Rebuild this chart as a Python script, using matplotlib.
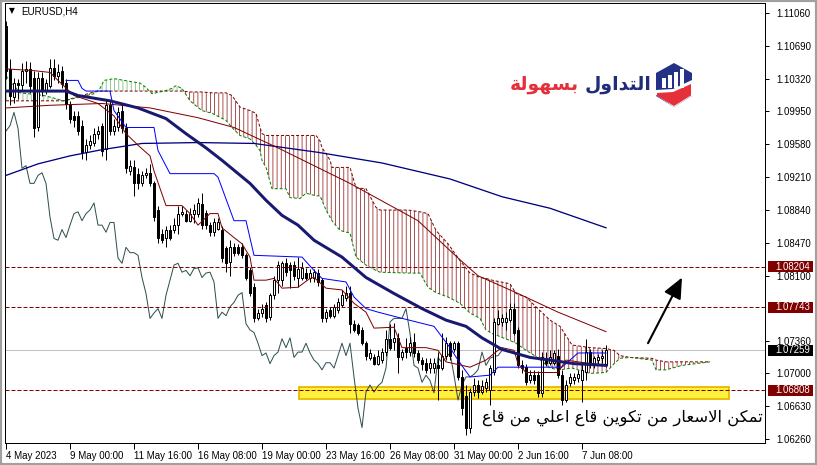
import matplotlib
matplotlib.use("Agg")
import matplotlib.pyplot as plt
from matplotlib.patches import Rectangle, Polygon

# ---------------- data (EURUSD H4) ----------------
opens = [
    1.1091, 1.1043, 1.1011, 1.1027, 1.1025, 1.1041, 1.1043, 1.1033, 1.0977, 1.1033,
    1.1018, 1.1024, 1.1044, 1.1035, 1.1041, 1.1027, 1.1003, 1.0990, 1.0990, 1.0979,
    1.0949, 1.0957, 1.0959, 1.0970, 1.0979, 1.0953, 1.1002, 1.0973, 1.0977, 1.0996,
    1.0976, 1.0928, 1.0932, 1.0925, 1.0914, 1.0923, 1.0926, 1.0914, 1.0884, 1.0857,
    1.0852, 1.0861, 1.0861, 1.0867, 1.0880, 1.0880, 1.0872, 1.0880, 1.0880, 1.0891,
    1.0881, 1.0867, 1.0859, 1.0863, 1.0861, 1.0841, 1.0825, 1.0842, 1.0842, 1.0842,
    1.0833, 1.0816, 1.0797, 1.0762, 1.0768, 1.0777, 1.0763, 1.0788, 1.0805, 1.0805,
    1.0824, 1.0822, 1.0822, 1.0808, 1.0808, 1.0813, 1.0807, 1.0807, 1.0813, 1.0805,
    1.0762, 1.0771, 1.0765, 1.0771, 1.0777, 1.0785, 1.0790, 1.0756, 1.0754, 1.0749,
    1.0734, 1.0717, 1.0718, 1.0711, 1.0715, 1.0724, 1.0739, 1.0735, 1.0740, 1.0718,
    1.0729, 1.0724, 1.0735, 1.0723, 1.0715, 1.0712, 1.0706, 1.0706, 1.0709, 1.0706,
    1.0720, 1.0734, 1.0728, 1.0734, 1.0696, 1.0675, 1.0639, 1.0679, 1.0687, 1.0679,
    1.0683, 1.0681, 1.0702, 1.0756, 1.0758, 1.0758, 1.0760, 1.0773, 1.0749, 1.0709,
    1.0707, 1.0692, 1.0698, 1.0698, 1.0678, 1.0717, 1.0712, 1.0712, 1.0720, 1.0698,
    1.0670, 1.0689, 1.0692, 1.0695, 1.0692, 1.0702, 1.0724, 1.0709, 1.0715, 1.0717,
    1.0709]
highs = [
    1.1097, 1.1054, 1.1033, 1.1032, 1.1050, 1.1052, 1.1051, 1.1041, 1.1039, 1.1039,
    1.1032, 1.1054, 1.1054, 1.1049, 1.1046, 1.1032, 1.1007, 1.0995, 1.0995, 1.0985,
    1.0964, 1.0969, 1.0976, 1.0979, 1.0982, 1.1009, 1.1007, 1.0987, 1.1000, 1.1003,
    1.0982, 1.0940, 1.0940, 1.0931, 1.0928, 1.0931, 1.0936, 1.0917, 1.0889, 1.0863,
    1.0866, 1.0867, 1.0875, 1.0889, 1.0888, 1.0884, 1.0886, 1.0891, 1.0898, 1.0903,
    1.0884, 1.0870, 1.0875, 1.0875, 1.0866, 1.0844, 1.0850, 1.0847, 1.0846, 1.0847,
    1.0836, 1.0820, 1.0802, 1.0773, 1.0778, 1.0780, 1.0791, 1.0810, 1.0827, 1.0827,
    1.0830, 1.0825, 1.0827, 1.0831, 1.0825, 1.0819, 1.0818, 1.0818, 1.0818, 1.0808,
    1.0773, 1.0775, 1.0778, 1.0785, 1.0794, 1.0799, 1.0799, 1.0760, 1.0757, 1.0752,
    1.0737, 1.0728, 1.0722, 1.0726, 1.0729, 1.0749, 1.0756, 1.0757, 1.0745, 1.0728,
    1.0740, 1.0741, 1.0745, 1.0726, 1.0718, 1.0717, 1.0717, 1.0717, 1.0724, 1.0745,
    1.0741, 1.0737, 1.0737, 1.0737, 1.0704, 1.0687, 1.0683, 1.0695, 1.0692, 1.0692,
    1.0695, 1.0709, 1.0762, 1.0771, 1.0767, 1.0769, 1.0779, 1.0779, 1.0752, 1.0715,
    1.0711, 1.0704, 1.0704, 1.0703, 1.0724, 1.0724, 1.0726, 1.0726, 1.0728, 1.0704,
    1.0692, 1.0700, 1.0701, 1.0704, 1.0712, 1.0739, 1.0728, 1.0720, 1.0722, 1.0726,
    1.0732]
lows = [
    1.1032, 1.1002, 1.1005, 1.1009, 1.1018, 1.1027, 1.1016, 1.0966, 1.0973, 1.1013,
    1.1015, 1.1021, 1.1030, 1.1027, 1.1021, 1.0998, 1.0982, 1.0978, 1.0969, 1.0942,
    1.0940, 1.0953, 1.0956, 1.0964, 1.0945, 1.0940, 1.0968, 1.0969, 1.0973, 1.0971,
    1.0926, 1.0924, 1.0900, 1.0908, 1.0911, 1.0920, 1.0911, 1.0872, 1.0847, 1.0847,
    1.0842, 1.0850, 1.0858, 1.0857, 1.0877, 1.0870, 1.0870, 1.0869, 1.0876, 1.0863,
    1.0863, 1.0855, 1.0855, 1.0861, 1.0825, 1.0814, 1.0810, 1.0832, 1.0833, 1.0830,
    1.0805, 1.0787, 1.0758, 1.0760, 1.0764, 1.0758, 1.0760, 1.0784, 1.0791, 1.0799,
    1.0810, 1.0796, 1.0805, 1.0797, 1.0805, 1.0805, 1.0803, 1.0803, 1.0799, 1.0758,
    1.0758, 1.0762, 1.0762, 1.0768, 1.0775, 1.0782, 1.0746, 1.0747, 1.0743, 1.0732,
    1.0715, 1.0715, 1.0709, 1.0709, 1.0712, 1.0720, 1.0726, 1.0726, 1.0700, 1.0715,
    1.0717, 1.0720, 1.0719, 1.0712, 1.0704, 1.0700, 1.0701, 1.0701, 1.0670, 1.0704,
    1.0715, 1.0715, 1.0724, 1.0692, 1.0653, 1.0631, 1.0633, 1.0675, 1.0672, 1.0677,
    1.0679, 1.0664, 1.0698, 1.0754, 1.0753, 1.0749, 1.0758, 1.0743, 1.0706, 1.0701,
    1.0687, 1.0689, 1.0688, 1.0673, 1.0673, 1.0708, 1.0709, 1.0709, 1.0695, 1.0664,
    1.0668, 1.0686, 1.0688, 1.0690, 1.0668, 1.0692, 1.0706, 1.0706, 1.0710, 1.0712,
    1.0707]
closes = [
    1.1041, 1.1013, 1.1027, 1.1025, 1.1041, 1.1043, 1.1024, 1.0976, 1.1033, 1.1018,
    1.1027, 1.1044, 1.1035, 1.1039, 1.1026, 1.1003, 1.0987, 1.0985, 1.0973, 1.0949,
    1.0957, 1.0962, 1.0970, 1.0973, 1.0951, 1.1002, 1.0973, 1.0979, 1.0994, 1.0976,
    1.0931, 1.0934, 1.0914, 1.0914, 1.0923, 1.0926, 1.0914, 1.0876, 1.0852, 1.0850,
    1.0862, 1.0853, 1.0867, 1.0880, 1.0882, 1.0872, 1.0880, 1.0884, 1.0892, 1.0867,
    1.0867, 1.0859, 1.0870, 1.0870, 1.0830, 1.0824, 1.0842, 1.0836, 1.0836, 1.0833,
    1.0808, 1.0790, 1.0762, 1.0768, 1.0773, 1.0762, 1.0788, 1.0805, 1.0822, 1.0824,
    1.0814, 1.0816, 1.0810, 1.0818, 1.0819, 1.0808, 1.0813, 1.0814, 1.0803, 1.0762,
    1.0769, 1.0765, 1.0775, 1.0780, 1.0788, 1.0791, 1.0756, 1.0749, 1.0746, 1.0734,
    1.0720, 1.0723, 1.0711, 1.0720, 1.0724, 1.0739, 1.0729, 1.0740, 1.0718, 1.0724,
    1.0724, 1.0734, 1.0723, 1.0715, 1.0711, 1.0704, 1.0712, 1.0712, 1.0706, 1.0720,
    1.0734, 1.0720, 1.0734, 1.0696, 1.0661, 1.0639, 1.0679, 1.0687, 1.0679, 1.0686,
    1.0690, 1.0706, 1.0758, 1.0762, 1.0762, 1.0762, 1.0773, 1.0745, 1.0709, 1.0706,
    1.0690, 1.0698, 1.0692, 1.0678, 1.0718, 1.0712, 1.0718, 1.0723, 1.0698, 1.0670,
    1.0687, 1.0696, 1.0696, 1.0699, 1.0704, 1.0724, 1.0709, 1.0717, 1.0719, 1.0720,
    1.07259]

# moving averages (bar index, price)
ma_fast_x = [0, 15, 18, 26, 33, 40, 45, 50, 54, 61, 65, 69, 73, 77, 84, 90, 97, 104, 110, 115, 119, 124, 131, 136, 142, 150]
ma_fast_y = [1.1018, 1.1018, 1.1013, 1.1007, 1.0999, 1.0987, 1.0970, 1.0954, 1.0940, 1.0914, 1.0895, 1.0878, 1.0867,
             1.0850, 1.0831, 1.0808, 1.0790, 1.0773, 1.0760, 1.0753, 1.0740, 1.0727, 1.0718, 1.0715, 1.0711, 1.0709]
ma_slow_x = [0, 8, 16, 24, 34, 48, 62, 78, 94, 111, 124, 136, 150]
ma_slow_y = [1.0923, 1.0936, 1.0945, 1.0952, 1.0959, 1.0960, 1.0959, 1.0949, 1.0937, 1.0919, 1.0899, 1.0886, 1.0864]
ma_mid_x = [0, 11, 24, 36, 48, 57, 68, 86, 103, 113, 118, 128, 138, 150]
ma_mid_y = [1.0999, 1.1002, 1.1004, 1.0999, 1.0988, 1.0977, 1.0954, 1.0914, 1.0872, 1.0830, 1.0810, 1.0790, 1.0769, 1.0747]

# ichimoku
kijun_x = [15, 18, 19, 20, 26, 27, 30, 37, 38, 41, 52, 53, 57, 60, 62, 74, 77, 79, 85, 87, 90, 93, 99, 107, 111, 113,
           116, 121, 123, 139, 143, 150]
kijun_y = [1.1030, 1.1030, 1.1021, 1.1018, 1.1018, 1.0996, 1.0977, 1.0977, 1.0951, 1.0925, 1.0925, 1.0921, 1.0872,
           1.0872, 1.0833, 1.0831, 1.0816, 1.0807, 1.0803, 1.0786, 1.0773, 1.0769, 1.0762, 1.0753, 1.0729, 1.0715,
           1.0696, 1.0698, 1.0707, 1.0707, 1.0723, 1.0723]
tenkan_x = [0, 7, 11, 13, 17, 23, 27, 30, 33, 36, 37, 40, 44, 46, 48, 51, 53, 54, 57, 59, 61, 62, 65, 67, 69, 73, 76,
            77, 80, 84, 87, 90, 92, 97, 99, 105, 108, 110, 116, 120, 123, 124, 127, 128, 130, 138, 140, 143, 150]
tenkan_y = [1.1043, 1.1041, 1.1039, 1.1030, 1.1013, 1.1004, 1.0990, 1.0970, 1.0957, 1.0945, 1.0928, 1.0889, 1.0889,
            1.0880, 1.0867, 1.0880, 1.0880, 1.0864, 1.0853, 1.0846, 1.0831, 1.0805, 1.0805, 1.0807, 1.0796, 1.0797,
            1.0807, 1.0808, 1.0796, 1.0794, 1.0779, 1.0769, 1.0751, 1.0752, 1.0729, 1.0729, 1.0726, 1.0713, 1.0707,
            1.0715, 1.0726, 1.0729, 1.0726, 1.0711, 1.0701, 1.0701, 1.0715, 1.0713, 1.0709]
chikou_shift = 26
cloud_x = [0, 3.5, 9.5, 14.5, 22, 23.5, 24.5, 27, 33.5, 35, 36.5, 39.5, 41.5, 42.5, 44, 46, 49, 51.5, 55, 56.5,
           58.5, 61, 62.5, 63.5, 64, 65, 66.5, 70, 71, 73.5, 75, 77.5, 78.5, 79, 80, 81, 81.5, 83.5, 86, 87.5,
           90, 92.5, 93.5, 100.5, 103.5, 105.5, 107.5, 110.5, 113.5, 116, 118.5, 120, 121.5, 126, 127.5, 130, 132.5,
           136, 138.5, 141.5, 146, 150, 152, 153.5, 156, 161.5, 162.5, 165, 169, 176]
span_a = [1.1035, 1.1016, 1.1013, 1.1007, 1.1015, 1.1021, 1.1030, 1.1032, 1.1027, 1.1022,
          1.1015, 1.1018, 1.1021, 1.1024, 1.1021, 1.1007, 1.0996, 1.0993, 1.0985, 1.0977,
          1.0968, 1.0964, 1.0957, 1.0951, 1.0940, 1.0932, 1.0908, 1.0908, 1.0898, 1.0897,
          1.0903, 1.0900, 1.0900, 1.0895, 1.0884, 1.0876, 1.0872, 1.0861, 1.0858, 1.0831,
          1.0822, 1.0816, 1.0814, 1.0813, 1.0813, 1.0797, 1.0791, 1.0786, 1.0779, 1.0768,
          1.0762, 1.0749, 1.0745, 1.0737, 1.0734, 1.0726, 1.0719, 1.0706, 1.0704, 1.0706,
          1.0700, 1.0701, 1.0711, 1.0717, 1.0718, 1.0715, 1.0704, 1.0704, 1.0709, 1.0713]
span_b = [1.1007, 1.1007, 1.1007, 1.1007, 1.1017, 1.1018, 1.1018, 1.1018, 1.1018, 1.1018,
          1.1018, 1.1018, 1.1018, 1.1018, 1.1018, 1.1017, 1.1017, 1.1016, 1.1016, 1.1013,
          1.1000, 1.0996, 1.0993, 1.0977, 1.0970, 1.0968, 1.0968, 1.0968, 1.0968, 1.0968,
          1.0968, 1.0968, 1.0962, 1.0954, 1.0948, 1.0940, 1.0932, 1.0932, 1.0932, 1.0909,
          1.0908, 1.0887, 1.0884, 1.0884, 1.0882, 1.0880, 1.0861, 1.0846, 1.0827, 1.0813,
          1.0808, 1.0807, 1.0805, 1.0801, 1.0790, 1.0786, 1.0775, 1.0760, 1.0753, 1.0732,
          1.0729, 1.0728, 1.0726, 1.0720, 1.0718, 1.0717, 1.0715, 1.0713, 1.0713, 1.0713]

# levels and annotations
level_lines = [1.08204, 1.07743, 1.06808]
bid_price = 1.07259
price_ticks = [1.11060, 1.10690, 1.10320, 1.09950, 1.09580, 1.09210, 1.08840, 1.08470, 1.08100,
               1.07360, 1.07000, 1.06630, 1.06260]
date_ticks = [0, 16, 32, 48, 64, 80, 96, 112, 128, 144]
date_labels = ["4 May 2023", "9 May 00:00", "11 May 16:00", "16 May 08:00", "19 May 00:00",
               "23 May 16:00", "26 May 08:00", "31 May 00:00", "2 Jun 16:00", "7 Jun 08:00"]
zone = (73.25, 180.75, 1.0671, 1.0685)          # left, right, bottom, top
arrow_from = (160.5, 1.0734)
arrow_to = (169, 1.0808)
note_text = "تمكن الاسعار من تكوين قاع اعلي من قاع"
logo_words = ["التداول", "بسهولة"]

# ---------------- arabic shaping (matplotlib has no shaping engine) ----------------
FORMS = {  # isolated, final, initial, medial
    'ا': ('\uFE8D', '\uFE8E', None, None), 'ب': ('\uFE8F', '\uFE90', '\uFE91', '\uFE92'),
    'ت': ('\uFE95', '\uFE96', '\uFE97', '\uFE98'), 'ة': ('\uFE93', '\uFE94', None, None),
    'د': ('\uFEA9', '\uFEAA', None, None), 'ر': ('\uFEAD', '\uFEAE', None, None),
    'س': ('\uFEB1', '\uFEB2', '\uFEB3', '\uFEB4'), 'ع': ('\uFEC9', '\uFECA', '\uFECB', '\uFECC'),
    'ق': ('\uFED5', '\uFED6', '\uFED7', '\uFED8'), 'ك': ('\uFED9', '\uFEDA', '\uFEDB', '\uFEDC'),
    'ل': ('\uFEDD', '\uFEDE', '\uFEDF', '\uFEE0'), 'م': ('\uFEE1', '\uFEE2', '\uFEE3', '\uFEE4'),
    'ن': ('\uFEE5', '\uFEE6', '\uFEE7', '\uFEE8'), 'ه': ('\uFEE9', '\uFEEA', '\uFEEB', '\uFEEC'),
    'و': ('\uFEED', '\uFEEE', None, None), 'ي': ('\uFEF1', '\uFEF2', '\uFEF3', '\uFEF4'),
    'لا': ('\uFEFB', '\uFEFC', None, None),
}


def shape_arabic(text):
    chars, i = [], 0
    while i < len(text):
        if text[i] == 'ل' and i + 1 < len(text) and text[i + 1] == 'ا':
            chars.append('لا')
            i += 2
        else:
            chars.append(text[i])
            i += 1
    out = []
    for k, ch in enumerate(chars):
        forms = FORMS.get(ch)
        if forms is None:
            out.append(ch)
            continue
        prev = chars[k - 1] if k > 0 else None
        nxt = chars[k + 1] if k + 1 < len(chars) else None
        jp = prev in FORMS and FORMS[prev][2] is not None
        jn = forms[2] is not None and nxt in FORMS
        if jp and jn:
            out.append(forms[3])
        elif jp:
            out.append(forms[1])
        elif jn:
            out.append(forms[2])
        else:
            out.append(forms[0])
    return ''.join(reversed(out))


# ---------------- figure ----------------
W, H = 817, 465
plt.rcParams['font.family'] = ['Liberation Sans', 'DejaVu Sans']
plt.rcParams['hatch.linewidth'] = 0.6
px = 0.72  # one pixel in points
ARABIC = ['DejaVu Sans']

fig = plt.figure(figsize=(W / 100, H / 100), dpi=100, facecolor='white')
ax = fig.add_axes([5 / W, 22 / H, 760 / W, 440 / H])
ax.set_xlim(-0.25, 189.75)
ax.set_ylim(1.06216, 1.11172)

MAROON = '#800000'

# cloud
a_above = [a >= b for a, b in zip(span_a, span_b)]
b_above = [b >= a for a, b in zip(span_a, span_b)]
ax.fill_between(cloud_x, span_a, span_b, where=b_above, interpolate=True, facecolor='none',
                edgecolor=(0.5, 0, 0, 0.8), hatch='||||', linewidth=0, zorder=1)
ax.fill_between(cloud_x, span_a, span_b, where=a_above, interpolate=True, facecolor='none',
                edgecolor=(0, 0.5, 0, 0.5), hatch='||||', linewidth=0, zorder=1)
ax.plot(cloud_x, span_b, color=MAROON, lw=px, dashes=(3, 2), zorder=2)
ax.plot(cloud_x, span_a, color='#008000', lw=px, dashes=(3, 2), zorder=2)

# support zone
ax.add_patch(Rectangle((zone[0], zone[2]), zone[1] - zone[0], zone[3] - zone[2],
                       facecolor='#FFF23C', edgecolor='#E8B800', lw=1.3, zorder=1.5))

# horizontal levels
for lv in level_lines:
    ax.axhline(lv, color=MAROON, lw=px, dashes=(4, 2), zorder=5)
ax.axhline(bid_price, color='#C0C0C0', lw=px, zorder=0.5)

# chikou span
ax.plot(range(len(closes) - chikou_shift), closes[chikou_shift:], color='#2F4F4F', lw=px, zorder=3)

# candles
idx = range(len(closes))
ax.vlines(idx, lows, highs, color='black', lw=px, zorder=4)
for i in idx:
    o, c = opens[i], closes[i]
    fc = 'white' if c >= o else 'black'
    h = c - o if abs(c - o) > 0.00002 else 0.00002
    ax.bar(i, h, bottom=o, width=0.5, facecolor=fc, edgecolor='black', linewidth=px, zorder=4.5)

# indicator lines
ax.plot(ma_slow_x, ma_slow_y, color='#000080', lw=1.3 * px, zorder=6)
ax.plot(ma_mid_x, ma_mid_y, color=MAROON, lw=px, zorder=6)
ax.plot(kijun_x, kijun_y, color='#0000FF', lw=px, zorder=6)
ax.plot(tenkan_x, tenkan_y, color=MAROON, lw=px, zorder=6)
ax.plot(ma_fast_x, ma_fast_y, color='#191970', lw=3 * px, zorder=6)

# arrow
ax.annotate('', xy=arrow_to, xytext=arrow_from,
            arrowprops=dict(arrowstyle='-|>,head_length=0.9,head_width=0.4', color='black',
                            lw=1.5, mutation_scale=14, shrinkA=0, shrinkB=0), zorder=7)

# note text
ax.text(189.2, 1.0650, shape_arabic(note_text), ha='right', va='center', fontsize=11.8,
        family=ARABIC, color='black', zorder=8)

# axes styling
for s in ax.spines.values():
    s.set_color('black')
    s.set_linewidth(px)
ax.yaxis.tick_right()
ax.set_yticks(price_ticks)
ax.set_yticklabels([f"{p:.5f}" for p in price_ticks])
ax.set_xticks(date_ticks)
ax.set_xticklabels(date_labels)
ax.tick_params(axis='y', direction='out', length=3, width=px, pad=5, labelsize=6.9, colors='black')
ax.tick_params(axis='x', direction='out', length=4, width=px, pad=2, labelsize=7, colors='black')
for lab in ax.get_xticklabels():
    lab.set_ha('left')

# price boxes on the scale
ytr = ax.get_yaxis_transform()
box_h = 0.00058
for lv, col in [(level_lines[0], MAROON), (level_lines[1], MAROON), (level_lines[2], MAROON),
                (bid_price, 'black')]:
    ax.add_patch(Rectangle((1.0 + 3 / 760, lv - box_h), 45 / 760, 2 * box_h, transform=ytr,
                           fc=col, ec='none', clip_on=False, zorder=9))
    ax.text(1.0 + 10 / 760, lv, f"{lv:.5f}", transform=ytr, ha='left', va='center', fontsize=6.9,
            color='white', zorder=10, clip_on=False)

# chart header
fig.text(9 / W, 1 - 11 / H, '▼', fontsize=5.5, va='center', ha='left', family=['DejaVu Sans'])
fig.text(21 / W, 1 - 11 / H, 'EURUSD,H4', fontsize=7.1, va='center', ha='left')

# logo
fig.text(651 / W, 1 - 84 / H, shape_arabic(logo_words[0]), color='#1F2C7A', fontsize=13.5,
         fontweight='bold', ha='right', va='center', family=ARABIC)
fig.text(579 / W, 1 - 84 / H, shape_arabic(logo_words[1]), color='#E5303C', fontsize=13.5,
         fontweight='bold', ha='right', va='center', family=ARABIC)
lax = fig.add_axes([655 / W, 1 - 108 / H, 38 / W, 46 / H])
lax.set_xlim(0, 38)
lax.set_ylim(0, 46)
lax.axis('off')
lax.add_patch(Polygon([(19, 45), (37, 35), (37, 12), (19, 1), (1, 12), (1, 35)], closed=True,
                      fc='#233286', ec='none'))
lax.add_patch(Polygon([(1, 13), (1, 18), (18, 19), (37, 28), (37, 12), (19, 1)], closed=True,
                      fc='white', ec='none'))
lax.add_patch(Polygon([(2, 12), (2, 15), (18, 16), (36, 24), (36, 12.5), (19, 2)], closed=True,
                      fc='#E5303C', ec='none'))
for bx, bh in zip([7, 13, 19, 25], [10, 13, 16, 19]):
    lax.add_patch(Rectangle((bx, 20), 4, bh, fc='white', ec='none'))

# window frame
fig.add_artist(Rectangle((0, 0), 1, 1, transform=fig.transFigure, fill=False, ec='#A0A0A0', lw=3))

fig.savefig('out.png', dpi=100, facecolor='white')
